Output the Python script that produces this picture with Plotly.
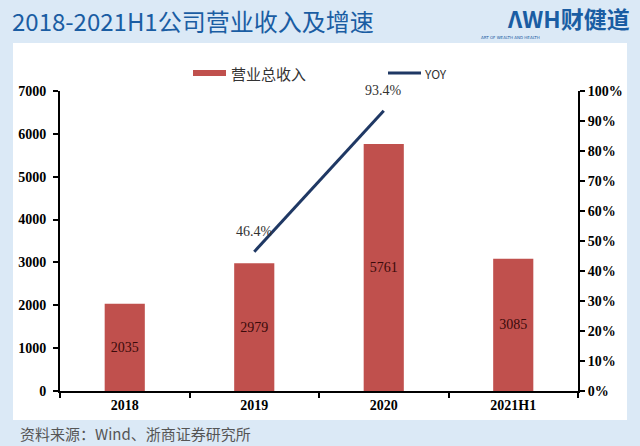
import plotly.graph_objects as go

categories = ["2018", "2019", "2020", "2021H1"]
revenue = [2035, 2979, 5761, 3085]
yoy_cats = ["2019", "2020"]
yoy = [46.4, 93.4]
yoy_labels = ["46.4%", "93.4%"]
left_ticks = [0, 1000, 2000, 3000, 4000, 5000, 6000, 7000]
right_ticks = [0, 10, 20, 30, 40, 50, 60, 70, 80, 90, 100]

BAR = "#c0504d"
LINE = "#1f3864"
BG = "#dbe9f6"
TITLE = "#1a5da3"
SERIF = "Liberation Serif, Times New Roman, serif"
CJK = "Noto Sans CJK SC, sans-serif"

W, H = 640, 446
L, R, T, B = 60, 62, 91, 55
pw = (W - L - R) / W
ph = (H - T - B) / H

def fx(x):
    return (x / W - L / W) / pw

def fy(y):
    return ((1 - y / H) - B / H) / ph

fig = go.Figure()
fig.add_trace(go.Bar(
    x=categories, y=revenue, width=0.31, marker_color=BAR, marker_line_width=0,
    text=[str(v) for v in revenue], textposition="inside", insidetextanchor="middle",
    textfont=dict(family=SERIF, size=14, color="#3a0a0a"), showlegend=False,
))
fig.add_trace(go.Scatter(
    x=yoy_cats, y=yoy, yaxis="y2", mode="lines", line=dict(color=LINE, width=3),
    showlegend=False, cliponaxis=False,
))

shapes = [
    dict(type="rect", xref="paper", yref="paper", x0=fx(13), x1=fx(627), y0=fy(420), y1=fy(43),
         fillcolor="white", line_width=0, layer="below"),
    dict(type="rect", xref="paper", yref="paper", x0=fx(193), x1=fx(226), y0=fy(76), y1=fy(70),
         fillcolor=BAR, line_width=0),
    dict(type="line", xref="paper", yref="paper", x0=fx(388), x1=fx(421), y0=fy(73), y1=fy(73),
         line=dict(color=LINE, width=3)),
]

annotations = [
    dict(text="2018-2021H1公司营业收入及增速", x=fx(10), y=fy(20), xanchor="left", yanchor="middle",
         font=dict(family=CJK, size=24, color=TITLE), showarrow=False),
    dict(text="<b>ΛWH财健道</b>", x=fx(632), y=fy(18), xanchor="right", yanchor="middle",
         font=dict(family=CJK, size=23, color=TITLE), showarrow=False),
    dict(text="ART OF WEALTH AND HEALTH", x=fx(479), y=fy(37), xanchor="left", yanchor="middle",
         font=dict(family="DejaVu Sans", size=4, color=TITLE), showarrow=False),
    dict(text="营业总收入", x=fx(229), y=fy(73), xanchor="left", yanchor="middle",
         font=dict(family=CJK, size=15, color="#333333"), showarrow=False),
    dict(text="YOY", x=fx(422), y=fy(73), xanchor="left", yanchor="middle",
         font=dict(family=CJK, size=12, color="#333333"), showarrow=False),
    dict(text="资料来源：Wind、浙商证券研究所", x=fx(18), y=fy(433), xanchor="left", yanchor="middle",
         font=dict(family=CJK, size=15, color="#555555"), showarrow=False),
]
for a in annotations:
    a["xref"] = "paper"
    a["yref"] = "paper"

for c, v, t in zip(yoy_cats, yoy, yoy_labels):
    annotations.append(dict(text=t, x=categories.index(c), y=v, xref="x", yref="y2", yshift=20,
                            showarrow=False, font=dict(family=SERIF, size=14, color="#333333")))

fig.update_layout(
    width=W, height=H, margin=dict(l=L, r=R, t=T, b=B),
    paper_bgcolor=BG, plot_bgcolor="rgba(0,0,0,0)",
    xaxis=dict(type="category", showline=True, linecolor="black", linewidth=2,
               range=[-0.5, len(categories) - 0.5],
               ticks="outside", tickson="boundaries", ticklen=5, tickcolor="black", tickwidth=2,
               tickfont=dict(family=SERIF, size=14, color="black", weight="bold"),
               showgrid=False, zeroline=False),
    yaxis=dict(range=[0, 7000], tickvals=left_ticks, showline=True, linecolor="black", linewidth=2,
               ticks="outside", ticklen=5, tickcolor="black", tickwidth=2,
               tickfont=dict(family=SERIF, size=14, color="black", weight="bold"),
               showgrid=False, zeroline=False, ticklabelstandoff=4),
    yaxis2=dict(range=[0, 100], tickvals=right_ticks, ticktext=[f"{v}%" for v in right_ticks],
                overlaying="y", side="right", showline=True, linecolor="black", linewidth=2,
                ticks="outside", ticklen=5, tickcolor="black", tickwidth=2,
                tickfont=dict(family=SERIF, size=14, color="black", weight="bold"),
                showgrid=False, zeroline=False),
    shapes=shapes, annotations=annotations,
)

fig.write_html("out.html", config={"displayModeBar": False},
               post_script="document.body.style.margin='0';document.body.style.overflow='hidden';")
